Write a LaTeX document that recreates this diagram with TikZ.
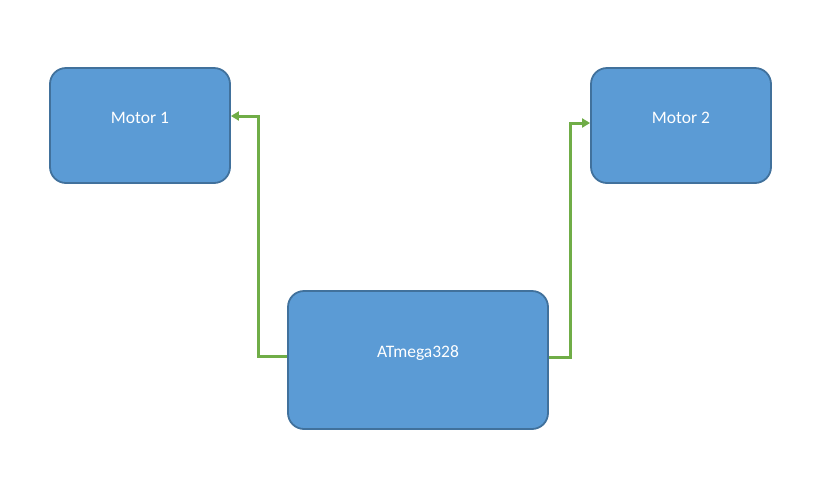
\documentclass[tikz,border=0pt]{standalone}
\usepackage{fontspec}
\setmainfont{Carlito}
\usetikzlibrary{arrows.meta}
\definecolor{boxfill}{HTML}{5B9BD5}
\definecolor{boxline}{HTML}{41719C}
\definecolor{conn}{HTML}{70AD47}
\tikzset{
  blk/.style={draw=boxline, fill=boxfill, line width=1.8pt, rounded corners=16pt, inner sep=0pt},
  txt/.style={text=white, font=\fontsize{17.5}{20}\selectfont},
  link/.style={draw=conn, line width=3pt, -{Triangle[length=8pt,width=9pt]}}
}
\begin{document}
\begin{tikzpicture}[x=1pt,y=-1pt]
\useasboundingbox (0,0) rectangle (833,499);
\node[blk, minimum width=180pt, minimum height=115pt,
  label={[txt, yshift=8pt]center:Motor 1}] (m1) at (140,125.5) {};
\node[blk, minimum width=180pt, minimum height=115pt,
  label={[txt, yshift=8pt]center:Motor 2}] (m2) at (681,125.5) {};
\node[blk, minimum width=260pt, minimum height=138pt,
  label={[txt, yshift=7pt]center:ATmega328}] (mc) at (418,360) {};
\coordinate (a1) at (258.5,356);
\coordinate (a2) at (258.5,116);
\coordinate (b1) at (570,357);
\coordinate (b2) at (570,123);
\draw[link] (mc.west |- a1) -- (a1) -- (a2) -- (m1.east |- a2);
\draw[link] (mc.east |- b1) -- (b1) -- (b2) -- (m2.west |- b2);
\end{tikzpicture}
\end{document}
